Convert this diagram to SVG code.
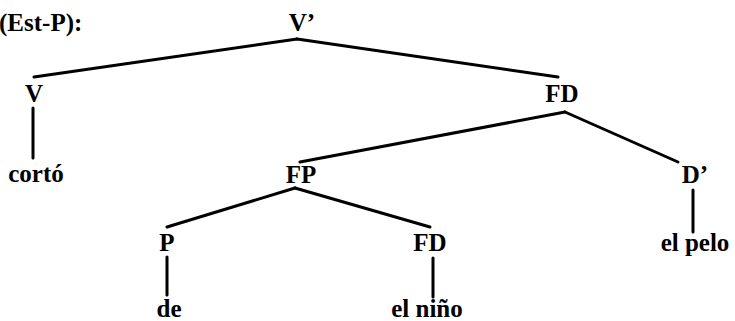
<svg xmlns="http://www.w3.org/2000/svg" width="735" height="321" viewBox="0 0 735 321">
<style>
.edge{stroke:#000;stroke-width:3;stroke-linecap:round;fill:none}
</style>
<rect width="735" height="321" fill="#fff"/>
<text x="-1" y="31" font-family="Liberation Serif" font-weight="bold" font-size="25">(Est-P):</text>
<g id="edges">
<path class="edge" d="M297 39 L34 77"/>
<path class="edge" d="M297 39 L558 77"/>
<path class="edge" d="M33 108 L33 158"/>
<path class="edge" d="M565 112 L300 162"/>
<path class="edge" d="M565 112 L678 162"/>
<path class="edge" d="M295 188 L167 227"/>
<path class="edge" d="M295 188 L430 227"/>
<path class="edge" d="M167 257 L167 295"/>
<path class="edge" d="M433 258 L433 297"/>
<path class="edge" d="M693 190 L693 232"/>
</g>
<g id="n-Vbar"><text x="302" y="31" font-family="Liberation Serif" font-weight="bold" font-size="25" text-anchor="middle">V’</text></g>
<g id="n-V"><text x="34" y="102" font-family="Liberation Serif" font-weight="bold" font-size="25" text-anchor="middle">V</text></g>
<g id="n-FD1"><text x="562" y="102" font-family="Liberation Serif" font-weight="bold" font-size="25" text-anchor="middle">FD</text></g>
<g id="n-corto"><text x="36" y="182" font-family="Liberation Serif" font-weight="bold" font-size="25" text-anchor="middle">cortó</text></g>
<g id="n-FP"><text x="301" y="183" font-family="Liberation Serif" font-weight="bold" font-size="25" text-anchor="middle">FP</text></g>
<g id="n-Dbar"><text x="695" y="183" font-family="Liberation Serif" font-weight="bold" font-size="25" text-anchor="middle">D’</text></g>
<g id="n-P"><text x="167" y="251" font-family="Liberation Serif" font-weight="bold" font-size="25" text-anchor="middle">P</text></g>
<g id="n-FD2"><text x="430" y="251" font-family="Liberation Serif" font-weight="bold" font-size="25" text-anchor="middle">FD</text></g>
<g id="n-elpelo"><text x="695" y="251" font-family="Liberation Serif" font-weight="bold" font-size="25" text-anchor="middle">el pelo</text></g>
<g id="n-de"><text x="169" y="317" font-family="Liberation Serif" font-weight="bold" font-size="25" text-anchor="middle">de</text></g>
<g id="n-elnino"><text x="427" y="317" font-family="Liberation Serif" font-weight="bold" font-size="25" text-anchor="middle">el niño</text></g>
</svg>
